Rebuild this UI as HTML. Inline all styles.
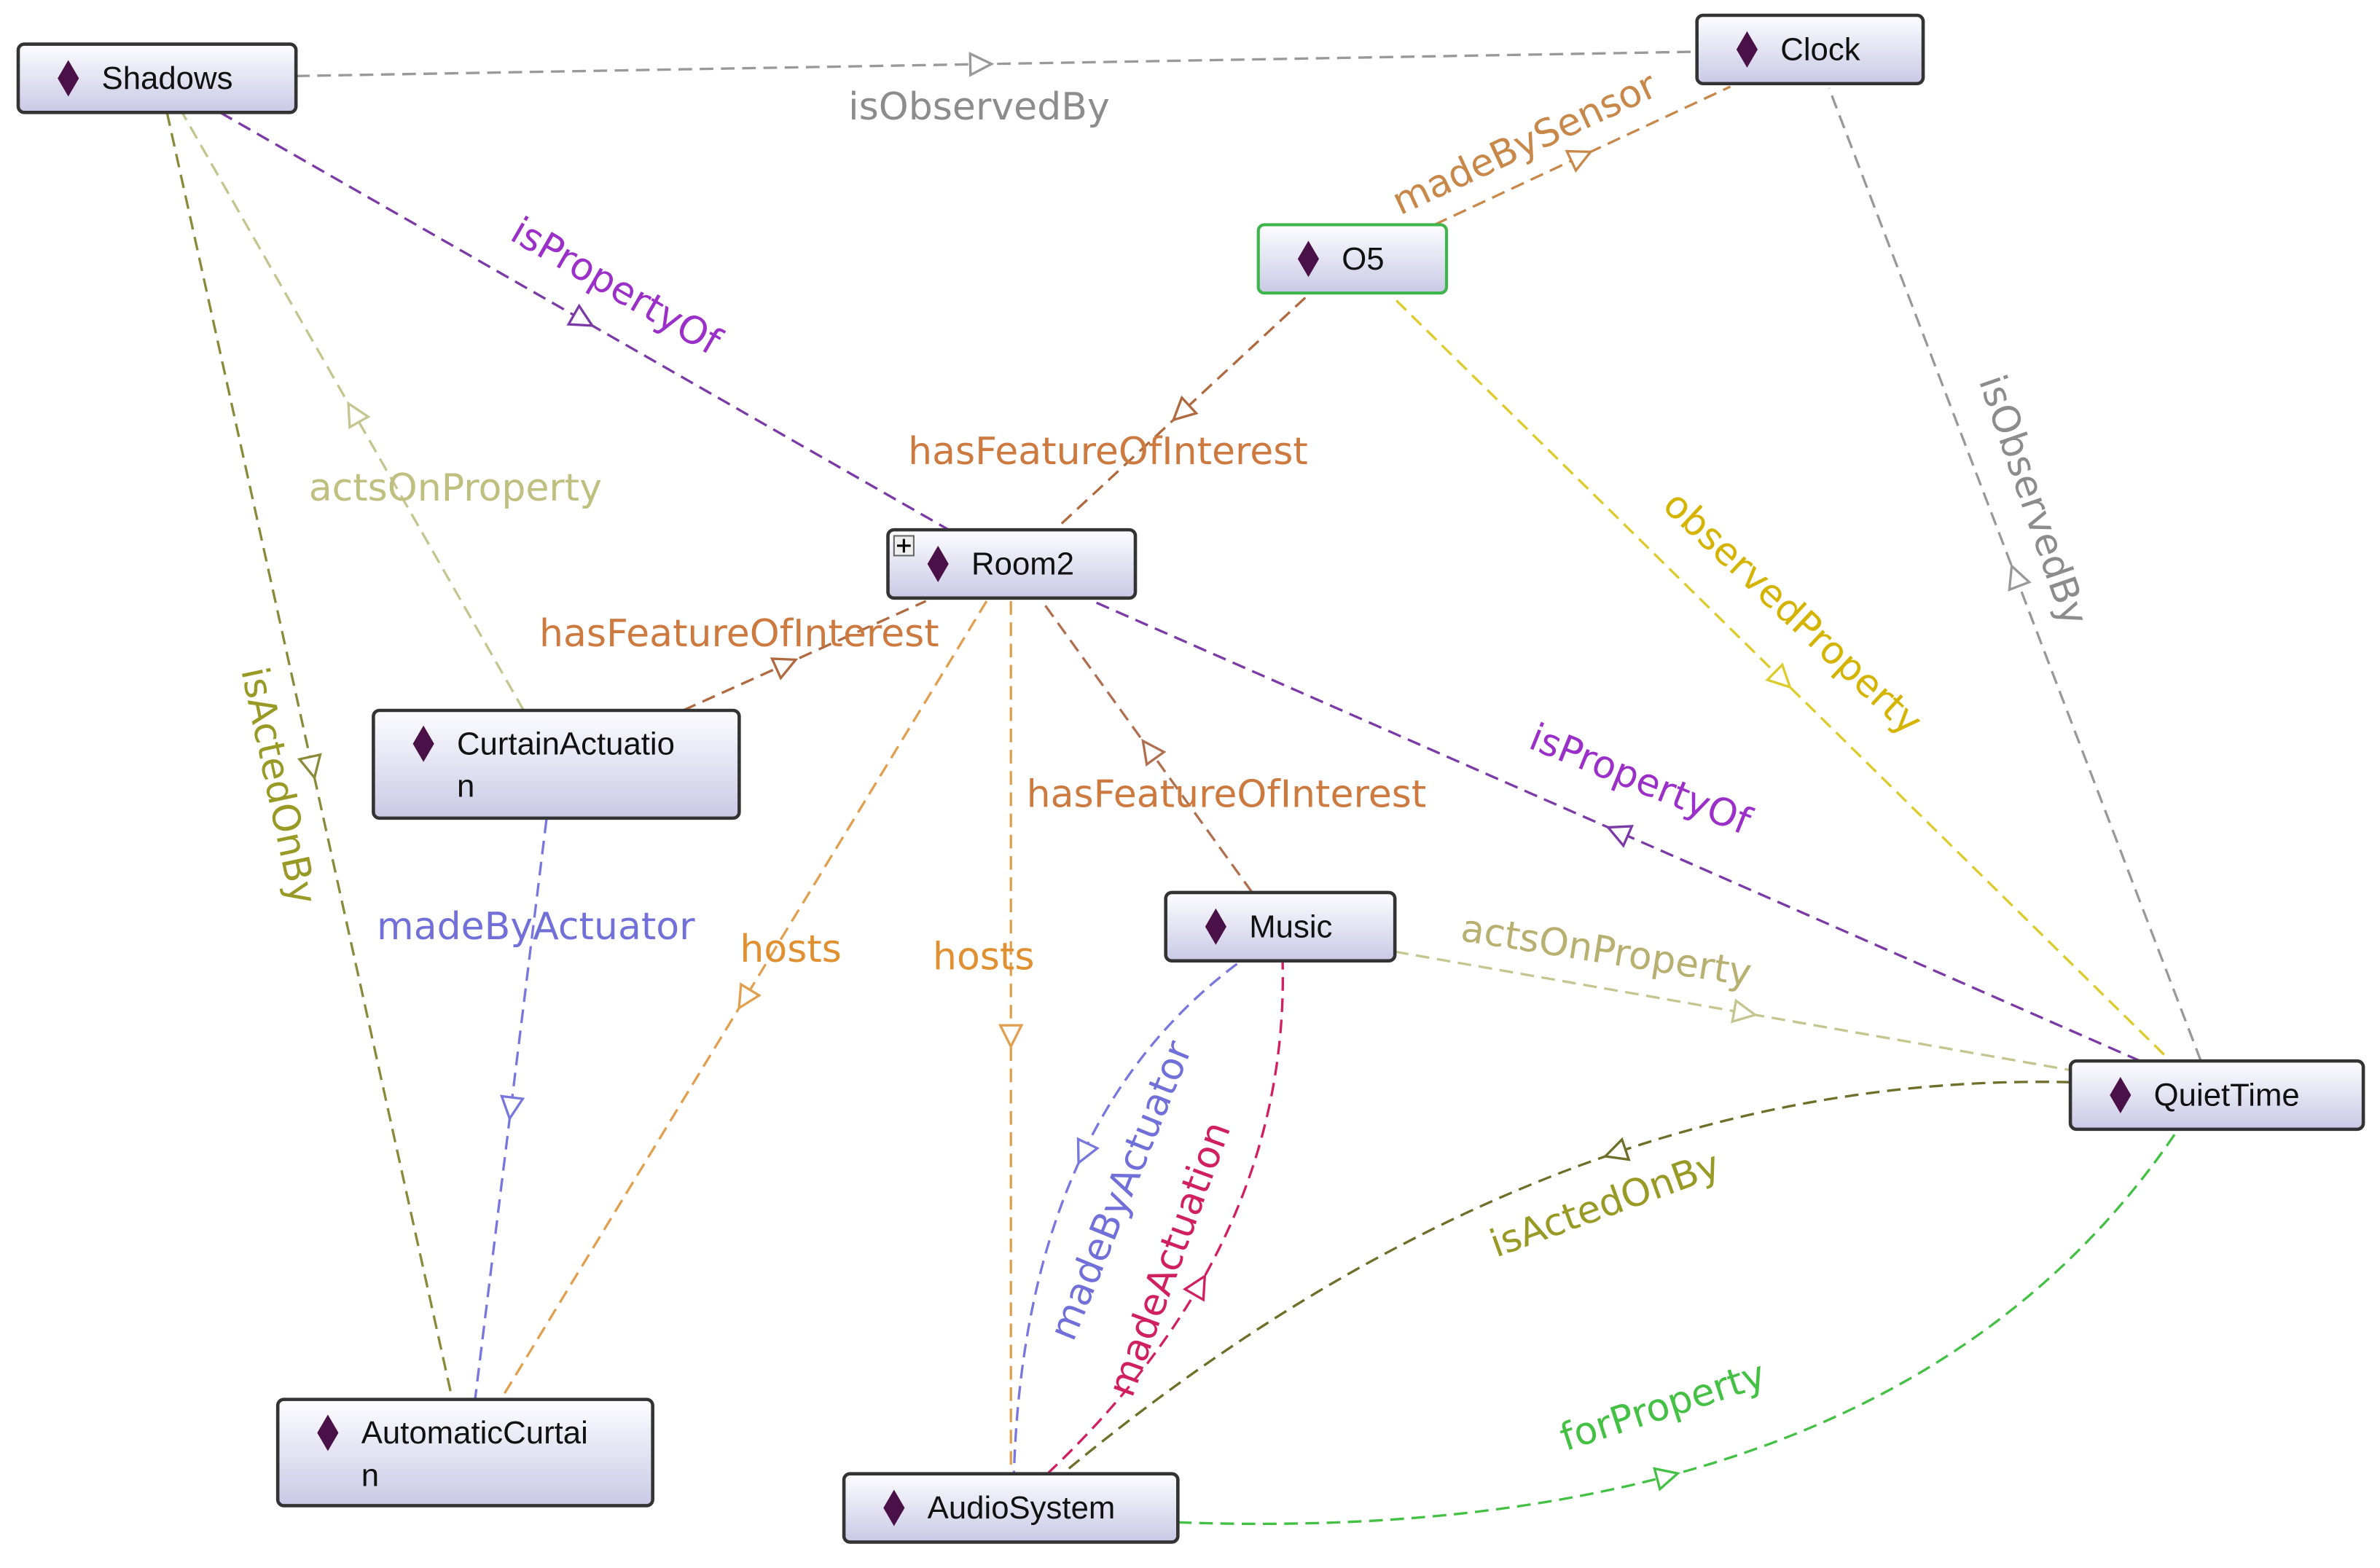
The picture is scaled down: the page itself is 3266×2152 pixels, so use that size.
<!DOCTYPE html>
<html><head><meta charset="utf-8"><style>
html,body{margin:0;padding:0;background:#fff;}
svg{display:block;}
.n text{font-family:"Liberation Sans",sans-serif;font-size:21px;fill:#111;}
.l{font-family:"DejaVu Sans","Liberation Sans",sans-serif;font-size:25px;}
</style></head><body>
<svg id="s" width="3266" height="2152" viewBox="0 0 1568 1033" xmlns="http://www.w3.org/2000/svg">
<defs>
<linearGradient id="g" x1="0" y1="0" x2="0" y2="1">
<stop offset="0" stop-color="#fdfdff"/><stop offset="1" stop-color="#c9c9e6"/>
</linearGradient>
</defs>
<g id="edges" fill="none" stroke-width="1.6" stroke-dasharray="9,5"></g>
<g id="arrows" fill="#fff" stroke-width="1.6"></g>
<g id="labels"></g>
<g class="n" id="nodes"></g>
</svg>
<script>
var E=document.getElementById('edges'),A=document.getElementById('arrows'),L=document.getElementById('labels'),N=document.getElementById('nodes');
var ns='http://www.w3.org/2000/svg';
function el(p,t,a){var e=document.createElementNS(ns,t);for(var k in a)e.setAttribute(k,a[k]);p.appendChild(e);return e;}
var edges=[
['M195,50 L1118,34','#999',0.49],
['M145,74 L625,349','#7b3aa6',0.5],
['M945,148 L1140,57','#c8884a',0.5],
['M860,196 L695,349','#b06a40',0.5],
['M920,198 L1430,699','#dccb2a',0.5],
['M1450,699 L1205,58','#999',0.5],
['M1410,699 L720,396','#7b3aa6',0.5],
['M110,74 L298,922','#8a8a3a',0.51],
['M345,468 L120,74','#c5c590',0.5],
['M450,468 L610,396','#b06a40',0.43],
['M360,540 L313,922','#7777dd',0.5],
['M650,396 L330,922','#e0a050',0.5],
['M666,396 L666,971','#e0a050',0.5],
['M825,588 L688,398','#b07050',0.5],
['M919,627 L1364,705','#c5c590',0.52],
['M815,635 Q675,740 668,971','#7777dd',0.43],
['M690,971 Q850,820 845,633','#d02060',0.42],
['M1364,713 Q1020,705 700,971','#6f6f2a',0.42],
['M776,1003 Q1250,1020 1435,744','#44c044',0.44]
];
edges.forEach(function(e){
 var p=el(E,'path',{d:e[0],stroke:e[1]});
 var len=p.getTotalLength(),t=e[2]*len;
 var a=p.getPointAtLength(t),b=p.getPointAtLength(Math.max(0,t-2));
 var ang=Math.atan2(a.y-b.y,a.x-b.x)*180/Math.PI;
 el(A,'polygon',{points:'6,0 -8,-7 -8,7',stroke:e[1],transform:'translate('+a.x+','+a.y+') rotate('+ang+')'});
});
var labels=[
['isObservedBy',645,72,0,'#8c8c8c'],
['isPropertyOf',405,190,30,'#9b30c8'],
['madeBySensor',1005,96,-25,'#c8884a'],
['hasFeatureOfInterest',730,299,0,'#cc7a40'],
['observedProperty',1180,405,43,'#d4b400'],
['isObservedBy',1338,330,71,'#8c8c8c'],
['isPropertyOf',1080,515,22,'#9b30c8'],
['isActedOnBy',182,518,78,'#999926'],
['actsOnProperty',300,323,0,'#bfbf80'],
['hasFeatureOfInterest',487,419,0,'#cc7a40'],
['madeByActuator',353,612,0,'#7070d8'],
['hosts',521,627,0,'#e09030'],
['hosts',648,632,0,'#e09030'],
['hasFeatureOfInterest',808,525,0,'#cc7a40'],
['actsOnProperty',1058,628,9,'#b8b070'],
['madeByActuator',740,785,-68,'#7070d8'],
['madeActuation',772,830,-70,'#d02060'],
['isActedOnBy',1058,795,-20,'#999926'],
['forProperty',1096,928,-18,'#44c044']
];
labels.forEach(function(l){
 var t=el(L,'text',{x:l[1],y:l[2],'text-anchor':'middle','dominant-baseline':'middle',fill:l[4],'class':'l',transform:'rotate('+l[3]+' '+l[1]+' '+l[2]+')'});
 t.textContent=l[0];
});
var nodes=[
['Shadows',12,29,183,45,0],
['Clock',1118,10,149,45,0],
['O5',829,148,124,45,2],
['Room2',585,349,163,45,1],
['CurtainActuatio|n',246,468,241,71,0],
['Music',768,588,151,45,0],
['QuietTime',1364,699,193,45,0],
['AutomaticCurtai|n',183,922,247,70,0],
['AudioSystem',556,971,220,45,0]
];
nodes.forEach(function(n){
 var x=n[1],y=n[2],w=n[3],h=n[4];
 el(N,'rect',{x:x,y:y,width:w,height:h,rx:4,fill:'url(#g)',stroke:n[5]==2?'#3cb54a':'#333',"stroke-width":n[5]==2?2:2.2});
 var two=n[0].indexOf('|')>=0;
 var cy=two?y+22:y+h/2;
 el(N,'polygon',{points:(x+33)+','+(cy-12)+' '+(x+40)+','+cy+' '+(x+33)+','+(cy+12)+' '+(x+26)+','+cy,fill:'#4a1048'});
 if(n[5]==1){el(N,'rect',{x:x+4,y:y+4,width:13,height:13,fill:'#eee',stroke:'#666','stroke-width':1});
  el(N,'path',{d:'M'+(x+6)+','+(y+10.5)+'h9M'+(x+10.5)+','+(y+6)+'v9',stroke:'#000','stroke-width':1.5});}
 var parts=n[0].split('|');
 parts.forEach(function(p,i){var tx=el(N,'text',{x:x+55,y:cy+7+i*28});tx.textContent=p;});
});
</script>
</body></html>
